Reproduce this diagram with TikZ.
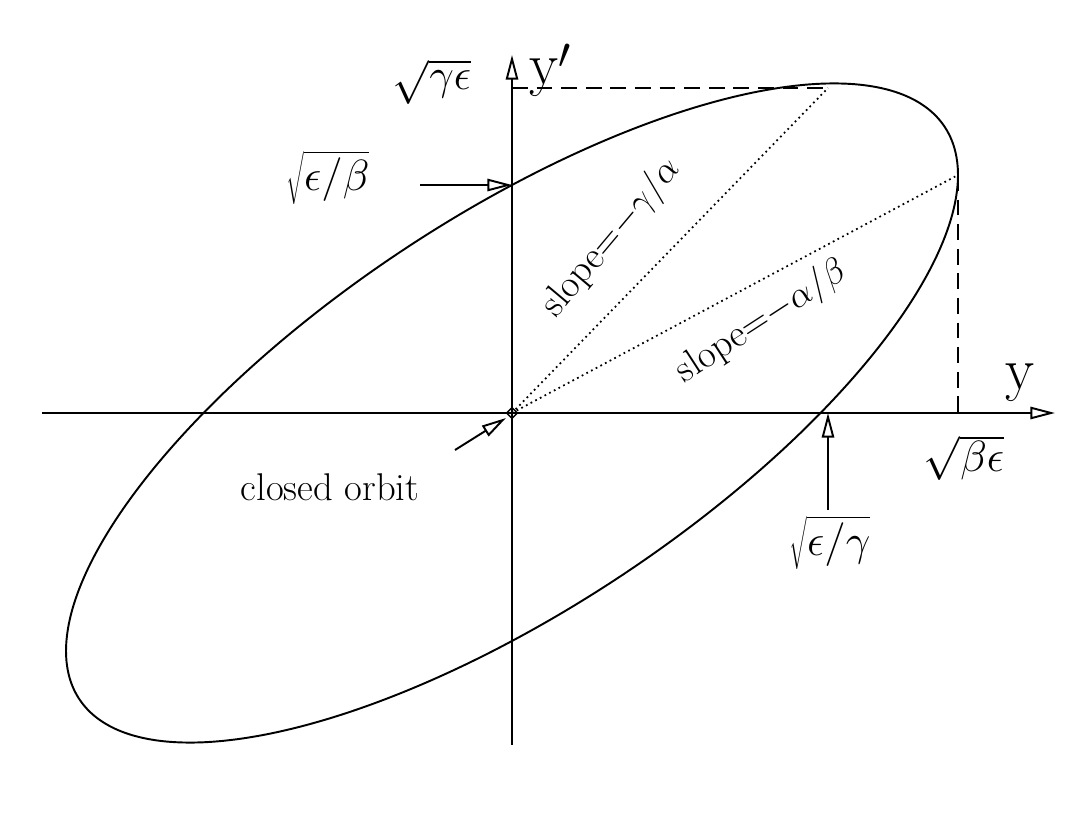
\documentclass[tikz,border=0pt]{standalone}
\usetikzlibrary{arrows.meta,shapes.geometric}
\begin{document}
\begin{tikzpicture}[x=0.02cm,y=-0.02cm,
  ax/.style={line width=1.1pt,-{Triangle[open,length=14pt,width=7pt]}},
  lbl/.style={font=\fontsize{34}{38}\selectfont},
  slp/.style={font=\fontsize{22}{26}\selectfont}]
\useasboundingbox (0,0) rectangle (1086,834);
\coordinate (O) at (512,413);
\coordinate (T) at (828,88);
\coordinate (R) at (958,175);
\coordinate (Y0) at (512,88);
\coordinate (X0) at (958,413);
\coordinate (A) at (512,185);
\coordinate (B) at (828,413);
\draw[ax] (42,413) -- (1055,413);
\draw[ax] (512,745) -- (512,55);
\draw[line width=1.1pt,samples=200,domain=0:360,smooth] plot ({512+446*cos(\x)},{413-238*cos(\x)-228*sin(\x)}) -- cycle;
\draw[dashed,line width=1pt,dash pattern=on 9pt off 5pt] (Y0) -- (T);
\draw[dashed,line width=1pt,dash pattern=on 9pt off 5pt] (R) -- (X0);
\draw[dotted,line width=1pt] (O) -- (T);
\draw[dotted,line width=1pt] (O) -- (R);
\node[draw,diamond,inner sep=1.6pt,line width=0.8pt] (d) at (O) {};
\coordinate (a0) at (420,185);
\coordinate (b0) at (828,510);
\coordinate (c0) at (455,450);
\draw[ax] (a0) -- (A);
\draw[ax] (b0) -- (B);
\draw[ax] (c0) -- (506,418);
\node[lbl] (lyp) at (550,70) {y$'$};
\node[lbl] (ly) at (1020,383) {y};
\node[lbl] (l1) at (432,82) {$\sqrt{\gamma\epsilon}$};
\node[lbl] (l2) at (328,178) {$\sqrt{\epsilon/\beta}$};
\node[lbl] (l3) at (964,458) {$\sqrt{\beta\epsilon}$};
\node[lbl] (l4) at (830,543) {$\sqrt{\epsilon/\gamma}$};
\node[slp] (co) at (330,487) {closed orbit};
\node[slp,rotate=50] (s1) at (612,238) {slope=$-\gamma/\alpha$};
\node[slp,rotate=33] (s2) at (762,322) {slope=$-\alpha/\beta$};
\end{tikzpicture}
\end{document}
